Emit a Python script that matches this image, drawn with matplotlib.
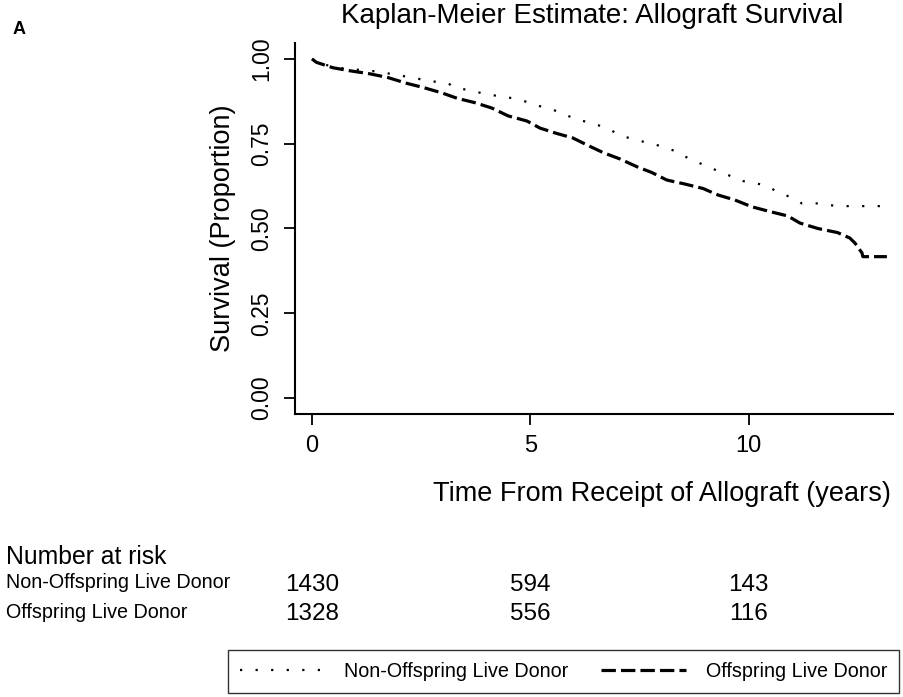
import matplotlib
matplotlib.use("Agg")
import matplotlib.pyplot as plt
import matplotlib.transforms as mtransforms

plt.rcParams['font.family'] = ['Liberation Sans', 'DejaVu Sans']

# Kaplan-Meier curves (years, proportion surviving)
t_offspring = [0, 0.10, 0.48, 0.87, 1.33, 1.74, 2.17, 2.54, 2.97, 3.32, 3.73, 4.12,
               4.49, 4.92, 5.22, 5.61, 5.97, 6.30, 6.66, 7.05, 7.44, 7.78, 8.12, 8.54,
               8.95, 9.29, 9.68, 10.07, 10.48, 10.89, 11.17, 11.58, 12.03, 12.31, 12.43,
               12.59, 12.61, 13.16]
s_offspring = [1.000, 0.990, 0.974, 0.965, 0.956, 0.945, 0.928, 0.916, 0.900, 0.884,
               0.871, 0.855, 0.832, 0.817, 0.796, 0.780, 0.767, 0.746, 0.724, 0.705,
               0.682, 0.665, 0.643, 0.631, 0.618, 0.599, 0.584, 0.564, 0.550, 0.537,
               0.516, 0.500, 0.488, 0.472, 0.457, 0.428, 0.417, 0.417]

t_nonoff = [0, 0.10, 0.48, 0.87, 1.10, 1.48, 1.94, 2.28, 2.74, 3.10, 3.27, 3.62, 3.89,
            4.19, 4.60, 4.99, 5.15, 5.52, 5.90, 6.09, 6.43, 6.70, 7.20, 7.67, 7.85,
            8.35, 8.54, 8.99, 9.27, 9.86, 10.37, 10.60, 11.10, 11.21, 11.56, 12.03, 13.27]
s_nonoff = [1.000, 0.990, 0.977, 0.969, 0.968, 0.963, 0.953, 0.945, 0.934, 0.929,
            0.916, 0.907, 0.899, 0.892, 0.884, 0.871, 0.863, 0.850, 0.830, 0.820,
            0.811, 0.797, 0.769, 0.753, 0.748, 0.727, 0.712, 0.686, 0.671, 0.640,
            0.628, 0.612, 0.584, 0.574, 0.574, 0.566, 0.566]

groups = ['Non-Offspring Live Donor', 'Offspring Live Donor']
risk_times = [0, 5, 10]
risk_nonoff = [1430, 594, 143]
risk_offspring = [1328, 556, 116]

fig = plt.figure(figsize=(9.04, 6.97), dpi=100)
ax = fig.add_axes([295 / 904, 1 - 414 / 697, 598 / 904, 371 / 697])

l1, = ax.plot(t_nonoff, s_nonoff, color='black', lw=1.6, linestyle=(0, (1, 6)),
              label=groups[0])
l2, = ax.plot(t_offspring, s_offspring, color='black', lw=2.3, linestyle=(0, (4.5, 1.6)),
              label=groups[1])

ax.set_xlim(-0.39, 13.3)
ax.set_ylim(-0.047, 1.047)
ax.set_xticks([0, 5, 10])
ax.set_yticks([0, 0.25, 0.5, 0.75, 1.0])
ax.set_yticklabels(['0.00', '0.25', '0.50', '0.75', '1.00'])
for side in ['top', 'right']:
    ax.spines[side].set_visible(False)
for side in ['left', 'bottom']:
    ax.spines[side].set_linewidth(1.5)
ax.tick_params(axis='both', length=8, width=1.3, labelsize=17, pad=7)
ax.tick_params(axis='y', labelrotation=90, labelsize=16.5, pad=8)
for lab in ax.get_yticklabels():
    lab.set_va('center')

ax.set_ylabel('Survival (Proportion)', fontsize=19.5, labelpad=10)
fig.text(592 / 904, 1 - 16 / 697, 'Kaplan-Meier Estimate: Allograft Survival',
         ha='center', va='center', fontsize=20)
fig.text(13 / 904, 1 - 29 / 697, 'A', ha='left', va='center', fontsize=13, fontweight='bold')
fig.text(662 / 904, 1 - 494 / 697, 'Time From Receipt of Allograft (years)',
         ha='center', va='center', fontsize=19.5)

# number at risk table
fig.text(6 / 904, 1 - 557 / 697, 'Number at risk', ha='left', va='center', fontsize=17.8)
fig.text(6 / 904, 1 - 583 / 697, groups[0], ha='left', va='center', fontsize=14.2)
fig.text(6 / 904, 1 - 612 / 697, groups[1], ha='left', va='center', fontsize=14.2)
trans = mtransforms.blended_transform_factory(ax.transData, fig.transFigure)
for t, n1, n2 in zip(risk_times, risk_nonoff, risk_offspring):
    ax.text(t, 1 - 585 / 697, str(n1), transform=trans, ha='center', va='center',
            fontsize=17.5, clip_on=False)
    ax.text(t, 1 - 614 / 697, str(n2), transform=trans, ha='center', va='center',
            fontsize=17.5, clip_on=False)

leg = fig.legend(handles=[l1, l2], loc='lower left', ncol=2,
                 bbox_to_anchor=(228 / 904, 4 / 697),
                 fontsize=14.2, handlelength=4.3, handletextpad=1.0, frameon=True,
                 fancybox=False, borderaxespad=0, borderpad=0.6, columnspacing=1.65)
leg.get_frame().set_edgecolor('black')
leg.get_frame().set_linewidth(1.0)

fig.savefig('out.png', dpi=100)
